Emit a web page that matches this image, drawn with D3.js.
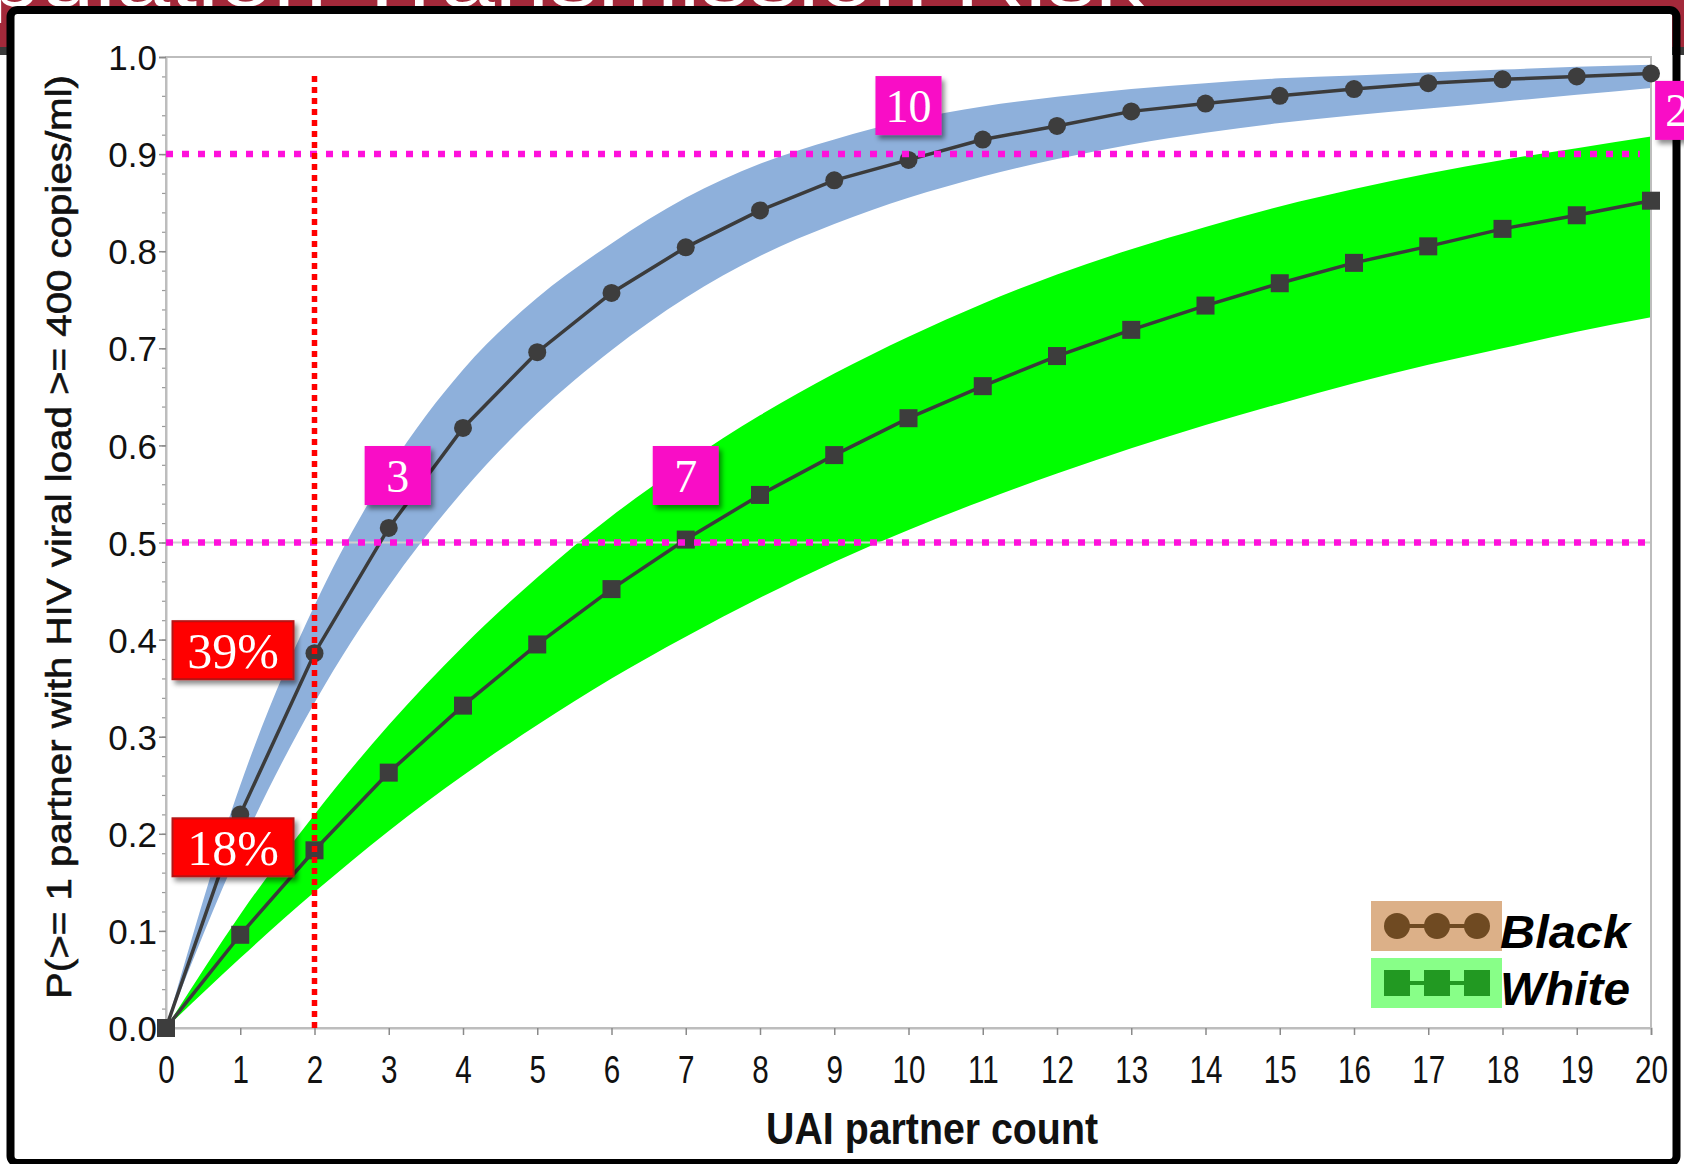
<!DOCTYPE html>
<html>
<head>
<meta charset="utf-8">
<script src="https://cdn.jsdelivr.net/npm/d3@7/dist/d3.min.js"></script>
<style>
  html, body { margin: 0; padding: 0; background: #fff; overflow: hidden; }
  svg { display: block; }
</style>
</head>
<body>
<svg id="chart" width="1684" height="1164"></svg>
<script>
// UAI partner count (x) and probability of >= 1 partner with HIV viral load >= 400 copies/ml
const partnerCounts = [0, 1, 2, 3, 4, 5, 6, 7, 8, 9, 10, 11, 12, 13, 14, 15, 16, 17, 18, 19, 20];

const blackMean  = [0, 0.220, 0.386, 0.515, 0.618, 0.696, 0.757, 0.804, 0.842, 0.873, 0.894,
                    0.915, 0.929, 0.944, 0.952, 0.960, 0.967, 0.973, 0.977, 0.980, 0.983];
const blackLower = [0, 0.185, 0.335, 0.455, 0.553, 0.633, 0.698, 0.752, 0.795, 0.828, 0.855,
                    0.877, 0.895, 0.910, 0.922, 0.932, 0.940, 0.947, 0.954, 0.961, 0.968];
const blackUpper = [0, 0.250, 0.435, 0.575, 0.678, 0.752, 0.808, 0.855, 0.890, 0.915, 0.935,
                    0.949, 0.959, 0.967, 0.973, 0.978, 0.981, 0.984, 0.987, 0.990, 0.992];

const whiteMean  = [0, 0.096, 0.183, 0.263, 0.332, 0.395, 0.452, 0.503, 0.549, 0.590, 0.628,
                    0.661, 0.692, 0.719, 0.744, 0.767, 0.788, 0.805, 0.823, 0.837, 0.852];
const whiteLower = [0, 0.072, 0.140, 0.203, 0.260, 0.312, 0.360, 0.403, 0.443, 0.480, 0.513,
                    0.543, 0.571, 0.597, 0.621, 0.643, 0.664, 0.683, 0.700, 0.717, 0.732];
const whiteUpper = [0, 0.117, 0.220, 0.312, 0.393, 0.464, 0.527, 0.582, 0.631, 0.674, 0.712,
                    0.746, 0.776, 0.802, 0.825, 0.846, 0.864, 0.880, 0.894, 0.906, 0.918];

const yTickValues = [0, 0.1, 0.2, 0.3, 0.4, 0.5, 0.6, 0.7, 0.8, 0.9, 1.0];
const yTickLabels = ["0.0", "0.1", "0.2", "0.3", "0.4", "0.5", "0.6", "0.7", "0.8", "0.9", "1.0"];
const xTickLabels = ["0", "1", "2", "3", "4", "5", "6", "7", "8", "9", "10",
                     "11", "12", "13", "14", "15", "16", "17", "18", "19", "20"];

// Probability thresholds and the partner counts where each group reaches them
const thresholds = [0.5, 0.9];
const thresholdEnds = [20, 19.85];
const crossingLabels = ["3", "7", "10", "20"];
const crossingX = [3.12, 7.0, 10.0, 20.5];
const crossingY = [0.569, 0.569, 0.95, 0.945];

// Partner count singled out with the group probabilities at that count
const highlightCount = 2;
const highlightTop = 0.985;

const legendNames = ["Black", "White"];
const headerText = "Population Transmission Risk";

// ---------------------------------------------------------------------------
const W = 1684, H = 1164;
const svg = d3.select("#chart");

const x = d3.scaleLinear().domain([0, 20]).range([166, 1651]);
const y = d3.scaleLinear().domain([0, 1]).range([1028, 57]);

const defs = svg.append("defs");
const shadow = defs.append("filter").attr("id", "shadow")
  .attr("x", "-20%").attr("y", "-20%").attr("width", "150%").attr("height", "150%");
shadow.append("feDropShadow").attr("dx", 3).attr("dy", 4).attr("stdDeviation", 2.5)
  .attr("flood-color", "#000").attr("flood-opacity", 0.45);

// Header band behind the framed panel
svg.append("rect").attr("x", 0).attr("y", 0).attr("width", W).attr("height", 47).attr("fill", "#a3293a");
svg.append("rect").attr("x", 0).attr("y", 47).attr("width", W).attr("height", 8).attr("fill", "#3a3a3a");
svg.append("text")
  .attr("x", -14).attr("y", 6)
  .attr("font-family", "Liberation Sans, Arial, sans-serif")
  .attr("font-size", 80)
  .attr("fill", "#fff")
  .attr("textLength", 1158)
  .attr("lengthAdjust", "spacingAndGlyphs")
  .text(headerText.slice(2));

// Panel interior
svg.append("rect").attr("x", 14).attr("y", 14).attr("width", 1658).attr("height", 1150).attr("fill", "#fff");

const plot = svg.append("g");

// Confidence bands
const band = (lo, hi) => d3.area()
  .x((d, i) => x(partnerCounts[i]))
  .y0((d, i) => y(lo[i]))
  .y1((d, i) => y(hi[i]))
  .curve(d3.curveMonotoneX);

plot.append("path")
  .attr("d", band(blackLower, blackUpper)(partnerCounts))
  .attr("fill", "#8eb0db");
plot.append("path")
  .attr("d", band(whiteLower, whiteUpper)(partnerCounts))
  .attr("fill", "#00ff00");

// Reference line at 0.5
plot.append("line")
  .attr("x1", x(0)).attr("x2", x(20))
  .attr("y1", y(0.5)).attr("y2", y(0.5))
  .attr("stroke", "#cfcfcf").attr("stroke-width", 2);

// Plot frame
plot.append("rect")
  .attr("x", x(0)).attr("y", y(1))
  .attr("width", x(20) - x(0)).attr("height", y(0) - y(1))
  .attr("fill", "none").attr("stroke", "#bdbdbd").attr("stroke-width", 2);

// Y axis: major ticks with labels, minor ticks every 0.02
const yMinor = d3.range(0, 50).map(i => i * 0.02).concat([1]);
const yMinorAxis = plot.append("g").attr("transform", `translate(${x(0)},0)`)
  .call(d3.axisLeft(y).tickValues(yMinor).tickSize(4).tickFormat(""));
yMinorAxis.select(".domain").remove();
yMinorAxis.selectAll("line").attr("stroke", "#9a9a9a").attr("stroke-width", 1.2);

const yAxis = plot.append("g").attr("transform", `translate(${x(0)},0)`)
  .call(d3.axisLeft(y).tickValues(yTickValues).tickSize(7).tickPadding(2)
    .tickFormat((d, i) => yTickLabels[i]));
yAxis.select(".domain").attr("stroke", "#bdbdbd").attr("stroke-width", 2);
yAxis.selectAll("line").attr("stroke", "#8a8a8a").attr("stroke-width", 1.5);
yAxis.selectAll("text")
  .attr("font-family", "Liberation Sans, Arial, sans-serif")
  .attr("font-size", 35)
  .attr("fill", "#111")
  .attr("dy", "0.36em");

// X axis
const xAxis = plot.append("g").attr("transform", `translate(0,${y(0)})`)
  .call(d3.axisBottom(x).tickValues(partnerCounts).tickSize(7)
    .tickFormat((d, i) => xTickLabels[i]));
xAxis.select(".domain").attr("stroke", "#bdbdbd").attr("stroke-width", 2);
xAxis.selectAll("line").attr("stroke", "#8a8a8a").attr("stroke-width", 1.5);
xAxis.selectAll("text")
  .attr("font-family", "Liberation Sans, Arial, sans-serif")
  .attr("font-size", 38)
  .attr("fill", "#111")
  .attr("y", 41)
  .attr("dy", "0.36em")
  .attr("transform", "scale(0.78,1)");

// Axis titles
plot.append("text")
  .attr("x", 932).attr("y", 1144)
  .attr("text-anchor", "middle")
  .attr("font-family", "Liberation Sans, Arial, sans-serif")
  .attr("font-weight", "bold")
  .attr("font-size", 45)
  .attr("fill", "#111")
  .attr("textLength", 332)
  .attr("lengthAdjust", "spacingAndGlyphs")
  .text("UAI partner count");

plot.append("text")
  .attr("transform", "translate(71,537) rotate(-90)")
  .attr("text-anchor", "middle")
  .attr("font-family", "Liberation Sans, Arial, sans-serif")
  .attr("font-size", 35)
  .attr("fill", "#111")
  .attr("stroke", "#111").attr("stroke-width", 0.6)
  .attr("textLength", 924)
  .attr("lengthAdjust", "spacingAndGlyphs")
  .text("P(>= 1 partner with HIV viral load >= 400 copies/ml)");

// Mean curves
const meanLine = vals => d3.line()
  .x((d, i) => x(partnerCounts[i]))
  .y((d, i) => y(vals[i]))(partnerCounts);

plot.append("path").attr("d", meanLine(blackMean))
  .attr("fill", "none").attr("stroke", "#3b3b3b").attr("stroke-width", 3.5);
plot.append("path").attr("d", meanLine(whiteMean))
  .attr("fill", "none").attr("stroke", "#3b3b3b").attr("stroke-width", 3.5);

plot.append("g").selectAll("circle").data(partnerCounts).join("circle")
  .attr("cx", d => x(d))
  .attr("cy", (d, i) => y(blackMean[i]))
  .attr("r", 9)
  .attr("fill", "#3d3d3d");

plot.append("g").selectAll("rect").data(partnerCounts).join("rect")
  .attr("x", d => x(d) - 9)
  .attr("y", (d, i) => y(whiteMean[i]) - 9)
  .attr("width", 18).attr("height", 18)
  .attr("fill", "#3d3d3d");

// Threshold lines
plot.append("g").selectAll("line").data(thresholds).join("line")
  .attr("x1", x(0))
  .attr("x2", (d, i) => x(thresholdEnds[i]))
  .attr("y1", d => y(d)).attr("y2", d => y(d))
  .attr("stroke", "#ff10dc")
  .attr("stroke-width", 6.5)
  .attr("stroke-dasharray", "7 9");

// Highlighted partner count
plot.append("line")
  .attr("x1", x(highlightCount)).attr("x2", x(highlightCount))
  .attr("y1", y(0)).attr("y2", y(highlightTop))
  .attr("stroke", "#ff0000")
  .attr("stroke-width", 5.5)
  .attr("stroke-dasharray", "6 5");

// Percent labels at the highlighted count
const hi = partnerCounts.indexOf(highlightCount);
const pctValues = [blackMean[hi], whiteMean[hi]];
const pctG = plot.append("g").selectAll("g").data(pctValues).join("g")
  .attr("transform", d => `translate(${x(highlightCount) - 21 - 121},${y(d) - 3 - 29})`);
pctG.append("rect")
  .attr("width", 121).attr("height", 58)
  .attr("fill", "#ff0000")
  .attr("stroke", "#b41414").attr("stroke-width", 2)
  .attr("filter", "url(#shadow)");
pctG.append("text")
  .attr("x", 60.5).attr("y", 29)
  .attr("dy", "0.35em")
  .attr("text-anchor", "middle")
  .attr("font-family", "Liberation Serif, 'DejaVu Serif', serif")
  .attr("font-size", 50)
  .attr("fill", "#fff")
  .text(d => Math.round(d * 100) + "%");

// Legend
const legend = svg.append("g");
const legendBg = ["#dcb088", "#88ff88"];
const legendMark = ["#6f4a22", "#229922"];
legendNames.forEach((name, k) => {
  const top = 901 + k * 57;
  const cy = top + 25;
  legend.append("rect").attr("x", 1371).attr("y", top).attr("width", 131).attr("height", 50)
    .attr("fill", legendBg[k]);
  legend.append("line").attr("x1", 1397).attr("x2", 1477).attr("y1", cy).attr("y2", cy)
    .attr("stroke", legendMark[k]).attr("stroke-width", 4);
  [1397, 1437, 1477].forEach(cx => {
    if (k === 0) {
      legend.append("circle").attr("cx", cx).attr("cy", cy).attr("r", 13).attr("fill", legendMark[k]);
    } else {
      legend.append("rect").attr("x", cx - 13).attr("y", cy - 13).attr("width", 26).attr("height", 26)
        .attr("fill", legendMark[k]);
    }
  });
  legend.append("text")
    .attr("x", 1500).attr("y", top + 47)
    .attr("font-family", "Liberation Sans, Arial, sans-serif")
    .attr("font-weight", "bold").attr("font-style", "italic")
    .attr("font-size", 47)
    .attr("fill", "#000")
    .attr("textLength", 130)
    .attr("lengthAdjust", "spacingAndGlyphs")
    .text(name);
});

// Panel frame
svg.append("rect")
  .attr("x", 10.5).attr("y", 10).attr("width", 1666).attr("height", 1153)
  .attr("rx", 7)
  .attr("fill", "none").attr("stroke", "#000").attr("stroke-width", 8);

// Crossing labels (drawn over the frame); text starts near the box's left edge
const crossG = svg.append("g").selectAll("g").data(crossingLabels).join("g")
  .attr("transform", (d, i) => `translate(${x(crossingX[i]) - 33},${y(crossingY[i]) - 29.5})`);
crossG.append("rect")
  .attr("width", 66).attr("height", 59)
  .attr("fill", "#f90dc6")
  .attr("filter", "url(#shadow)");
crossG.append("text")
  .attr("x", d => d.length > 1 && d !== "10" ? 10 : 33)
  .attr("y", 29.5)
  .attr("dy", "0.35em")
  .attr("text-anchor", d => d.length > 1 && d !== "10" ? "start" : "middle")
  .attr("font-family", "Liberation Serif, 'DejaVu Serif', serif")
  .attr("font-size", 46)
  .attr("fill", "#fff")
  .text(d => d);
</script>
</body>
</html>
